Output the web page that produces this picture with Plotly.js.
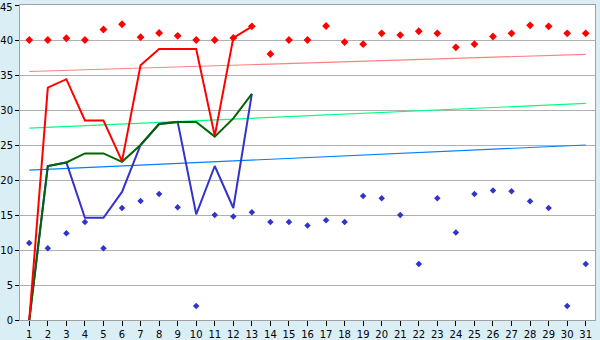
<!DOCTYPE html>
<html>
<head>
<meta charset="utf-8">
<script src="https://cdn.plot.ly/plotly-3.0.1.min.js"></script>
<style>html,body{margin:0;padding:0;background:#daeef5;}#chart{width:600px;height:340px;}</style>
</head>
<body>
<div id="chart"></div>
<script>
// Categories (days)
const days = [1,2,3,4,5,6,7,8,9,10,11,12,13,14,15,16,17,18,19,20,21,22,23,24,25,26,27,28,29,30,31];
const lineDays = [1,2,3,4,5,6,7,8,9,10,11,12,13];

// Line series (days 1-13)
const redLine   = [0, 33.2, 34.4, 28.5, 28.5, 22.7, 36.4, 38.7, 38.7, 38.7, 26.3, 40.3, 41.9];
const greenLine = [0, 22.0, 22.5, 23.8, 23.8, 22.6, 25.0, 28.0, 28.3, 28.3, 26.2, 28.8, 32.3];
const blueLine  = [0, 22.0, 22.5, 14.6, 14.6, 18.3, 25.0, 28.0, 28.3, 15.1, 22.0, 16.0, 32.3];

// Scatter series (days 1-31)
const redPoints  = [40.0, 40.0, 40.25, 40.0, 41.5, 42.25, 40.4, 41.0, 40.6, 40.0, 40.0, 40.3, 41.95, 38.0, 40.0, 40.0, 42.0, 39.7, 39.4, 40.95, 40.7, 41.25, 40.95, 38.95, 39.4, 40.5, 40.95, 42.1, 41.95, 40.95, 40.95];
const bluePoints = [11.0, 10.25, 12.4, 14.0, 10.25, 16.0, 17.0, 18.0, 16.1, 2.0, 15.0, 14.8, 15.4, 14.0, 14.0, 13.5, 14.25, 14.0, 17.7, 17.4, 15.0, 8.0, 17.4, 12.5, 18.0, 18.5, 18.4, 16.95, 16.0, 2.0, 8.0];

// Linear trend lines (start day 1, end day 31)
const trendDays  = [1, 31];
const trendRed   = [35.5, 37.95];
const trendGreen = [27.4, 30.95];
const trendBlue  = [21.4, 25.0];

const yTicks = [0,5,10,15,20,25,30,35,40,45];
const yMax = 45;

const traces = [
  {x: days, y: bluePoints, type:'scatter', mode:'markers', marker:{symbol:'diamond', size:5, color:'#3333cc'}, hoverinfo:'skip'},
  {x: days, y: redPoints, type:'scatter', mode:'markers', marker:{symbol:'diamond', size:6, color:'#ff0000'}, hoverinfo:'skip'},
  {x: trendDays, y: trendRed, type:'scatter', mode:'lines', line:{color:'#ff8080', width:1.2}, hoverinfo:'skip'},
  {x: trendDays, y: trendGreen, type:'scatter', mode:'lines', line:{color:'#00ff80', width:1.2}, hoverinfo:'skip'},
  {x: trendDays, y: trendBlue, type:'scatter', mode:'lines', line:{color:'#0080ff', width:1.2}, hoverinfo:'skip'},
  {x: lineDays, y: blueLine, type:'scatter', mode:'lines', line:{color:'#3333cc', width:2}, hoverinfo:'skip'},
  {x: lineDays, y: greenLine, type:'scatter', mode:'lines', line:{color:'#006600', width:2}, hoverinfo:'skip'},
  {x: lineDays, y: redLine, type:'scatter', mode:'lines', line:{color:'#ff0000', width:2}, hoverinfo:'skip'}
];

const layout = {
  width: 600, height: 340,
  margin: {l:20, r:5, t:5, b:20, pad:0},
  paper_bgcolor: '#daeef5',
  plot_bgcolor: '#ffffff',
  showlegend: false,
  font: {family: 'DejaVu Sans, Verdana, sans-serif', size: 10, color: '#000000'},
  xaxis: {
    range: [0.5, 31.5], tickmode: 'array', tickvals: days, ticktext: days.map(String),
    showgrid: false, zeroline: false,
    showline: true, linecolor: '#a0a0a0', linewidth: 1, mirror: true,
    ticks: 'outside', ticklen: 5, tickcolor: '#000000', tickwidth: 1,
    tickangle: 0, fixedrange: true
  },
  yaxis: {
    range: [0, yMax], tickmode: 'array', tickvals: yTicks,
    ticktext: yTicks.map(v => v === yMax ? '' : String(v)),
    showgrid: true, gridcolor: '#b0b0b0', gridwidth: 1, zeroline: false,
    showline: true, linecolor: '#a0a0a0', linewidth: 1, mirror: true,
    ticks: 'outside', ticklen: 4, tickcolor: '#000000', tickwidth: 1,
    fixedrange: true
  },
  annotations: [
    {xref:'paper', yref:'y', x:0, y:yMax, text:String(yMax), showarrow:false,
     xanchor:'right', yanchor:'top', xshift:-5, yshift:5,
     font:{family:'DejaVu Sans, Verdana, sans-serif', size:10, color:'#000000'}}
  ]
};

Plotly.newPlot('chart', traces, layout, {staticPlot: true, displayModeBar: false});
</script>
</body>
</html>
